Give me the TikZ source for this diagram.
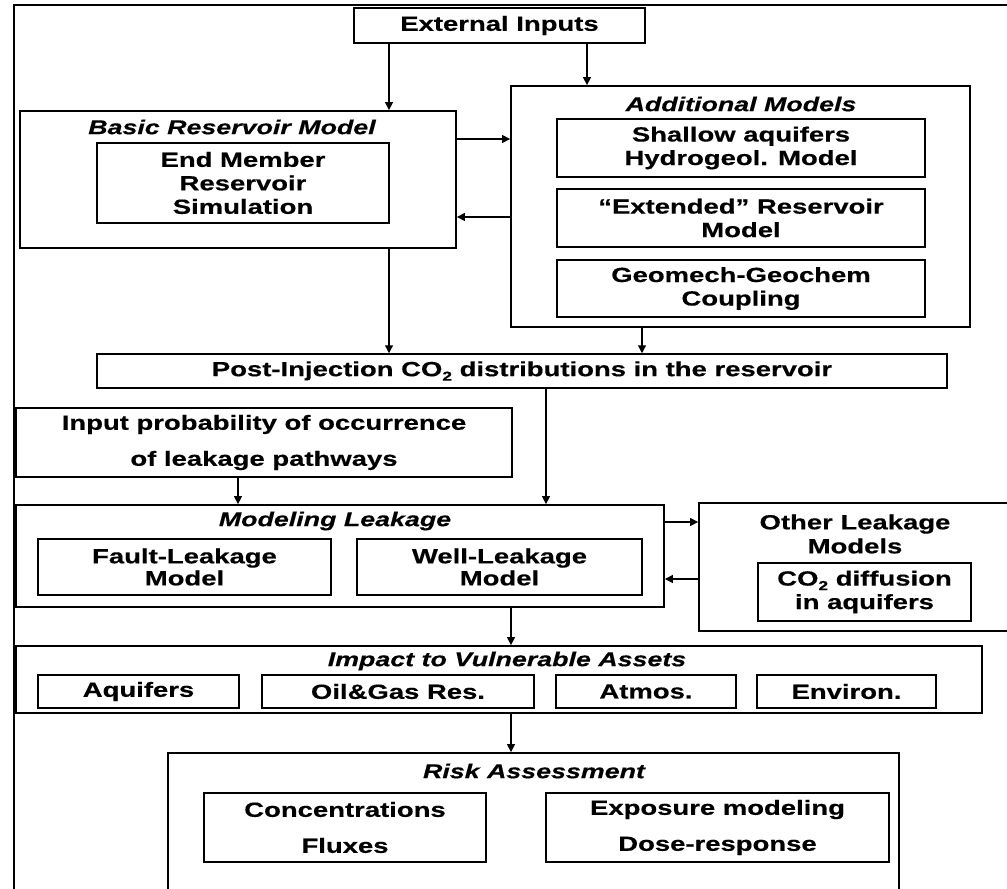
\documentclass[tikz,border=0pt]{standalone}
\usepackage{fontspec}
\setmainfont{Liberation Sans}
\newfontfamily\widefont[FakeStretch=1.34, FakeBold=0.4]{Liberation Sans}
\usetikzlibrary{arrows.meta}
\newcommand{\subtwo}{\raisebox{-0.22em}{\fontsize{13}{13}\selectfont 2}}
\begin{document}
\begin{tikzpicture}[x=1pt,y=-1pt,
  obox/.style={draw, line width=1.8pt, inner sep=0pt},
  ibox/.style={draw, line width=1.5pt, inner sep=0pt, align=center},
  wtxt/.style={font=\widefont\bfseries\fontsize{20.5}{23.5}\selectfont},
  ltxt/.style={font=\widefont\bfseries\fontsize{20.5}{36}\selectfont},
  ttl/.style={inner sep=0pt, font=\widefont\bfseries\itshape\fontsize{20}{23}\selectfont},
  arr/.style={-{Triangle[length=8pt,width=8pt]}, line width=1.3pt}]
\useasboundingbox (0,0) rectangle (1007,889);
\draw[line width=2.2pt] (14,900) -- (14,5) -- (1012,5);

% top
\node[ibox, wtxt, minimum width=291pt, minimum height=35pt] (ext) at (499.5,25.5) {External Inputs};

\node[obox, minimum width=436pt, minimum height=137pt] (basic) at (238,179.5) {};
\node[ttl] (basicT) at (232,127) {Basic Reservoir Model};
\node[ibox, wtxt, minimum width=292pt, minimum height=80pt] (endm) at (243,183) {End Member\\Reservoir\\Simulation};

\node[obox, minimum width=459pt, minimum height=241pt] (add) at (740.5,206.5) {};
\node[ttl] (addT) at (741,104) {Additional Models};
\node[ibox, wtxt, minimum width=368pt, minimum height=58pt] (sh) at (741,148) {Shallow aquifers\\Hydrogeol. Model};
\node[ibox, wtxt, minimum width=368pt, minimum height=58pt] (exr) at (741,218) {“Extended” Reservoir\\Model};
\node[ibox, wtxt, minimum width=368pt, minimum height=57pt] (geo) at (741,288.5) {Geomech-Geochem\\Coupling};

\node[ibox, wtxt, minimum width=850pt, minimum height=34pt] (post) at (522,371) {Post-Injection CO\subtwo{} distributions in the reservoir};

\node[ibox, ltxt, minimum width=496pt, minimum height=69pt] (inp) at (264,442.5) {Input probability of occurrence\\of leakage pathways};

% modeling leakage
\node[obox, minimum width=648pt, minimum height=102pt] (mod) at (340,556) {};
\node[ttl] (modT) at (335,521) {Modeling Leakage};
\node[ibox, font=\widefont\bfseries\fontsize{20.5}{22}\selectfont, minimum width=293pt, minimum height=56pt] (fault) at (184.5,567) {Fault-Leakage\\Model};
\node[ibox, font=\widefont\bfseries\fontsize{20.5}{22}\selectfont, minimum width=285pt, minimum height=56pt] (well) at (499.5,567) {Well-Leakage\\Model};

\node[obox, minimum width=316pt, minimum height=128pt] (oth) at (857,567) {};
\node[inner sep=0pt, align=center, font=\widefont\bfseries\fontsize{20.5}{24}\selectfont] (othT) at (855,534) {Other Leakage\\Models};
\node[ibox, wtxt, minimum width=213pt, minimum height=58pt] (co2) at (864.5,592) {CO\subtwo{} diffusion\\in aquifers};

% impact
\node[obox, minimum width=966pt, minimum height=67pt] (imp) at (499,679.5) {};
\node[ttl] (impT) at (507,661) {Impact to Vulnerable Assets};
\node[ibox, wtxt, minimum width=201pt, minimum height=33pt] (aq) at (138.5,691.5) {Aquifers};
\node[ibox, wtxt, minimum width=272pt, minimum height=33pt] (oil) at (398,691.5) {Oil\&Gas Res.};
\node[ibox, wtxt, minimum width=180pt, minimum height=33pt] (atm) at (646,691.5) {Atmos.};
\node[ibox, wtxt, minimum width=179pt, minimum height=33pt] (env) at (846.5,691.5) {Environ.};

% risk
\node[obox, minimum width=731pt, minimum height=160pt] (risk) at (533.5,833) {};
\node[ttl] (riskT) at (534,771) {Risk Assessment};
\node[ibox, ltxt, minimum width=282pt, minimum height=69pt] (conc) at (345,827.5) {Concentrations\\Fluxes};
\node[ibox, ltxt, minimum width=343pt, minimum height=69pt] (expo) at (717.5,827.5) {Exposure modeling\\Dose-response};

% connector helper coordinates
\coordinate (xa) at (389,0);
\coordinate (xb) at (587,0);
\coordinate (xc) at (642,0);
\coordinate (xd) at (546,0);
\coordinate (xe) at (238,0);
\coordinate (xf) at (511,0);
\coordinate (ya) at (0,139);
\coordinate (yb) at (0,217);
\coordinate (yc) at (0,522);
\coordinate (yd) at (0,579);

\draw[arr] (ext.south -| xa) -- (basic.north -| xa);
\draw[arr] (ext.south -| xb) -- (add.north -| xb);
\draw[arr] (basic.east |- ya) -- (add.west |- ya);
\draw[arr] (add.west |- yb) -- (basic.east |- yb);
\draw[arr] (basic.south -| xa) -- (post.north -| xa);
\draw[arr] (add.south -| xc) -- (post.north -| xc);
\draw[arr] (post.south -| xd) -- (mod.north -| xd);
\draw[arr] (inp.south -| xe) -- (mod.north -| xe);
\draw[arr] (mod.east |- yc) -- (oth.west |- yc);
\draw[arr] (oth.west |- yd) -- (mod.east |- yd);
\draw[arr] (mod.south -| xf) -- (imp.north -| xf);
\draw[arr] (imp.south -| xf) -- (risk.north -| xf);
\end{tikzpicture}
\end{document}
